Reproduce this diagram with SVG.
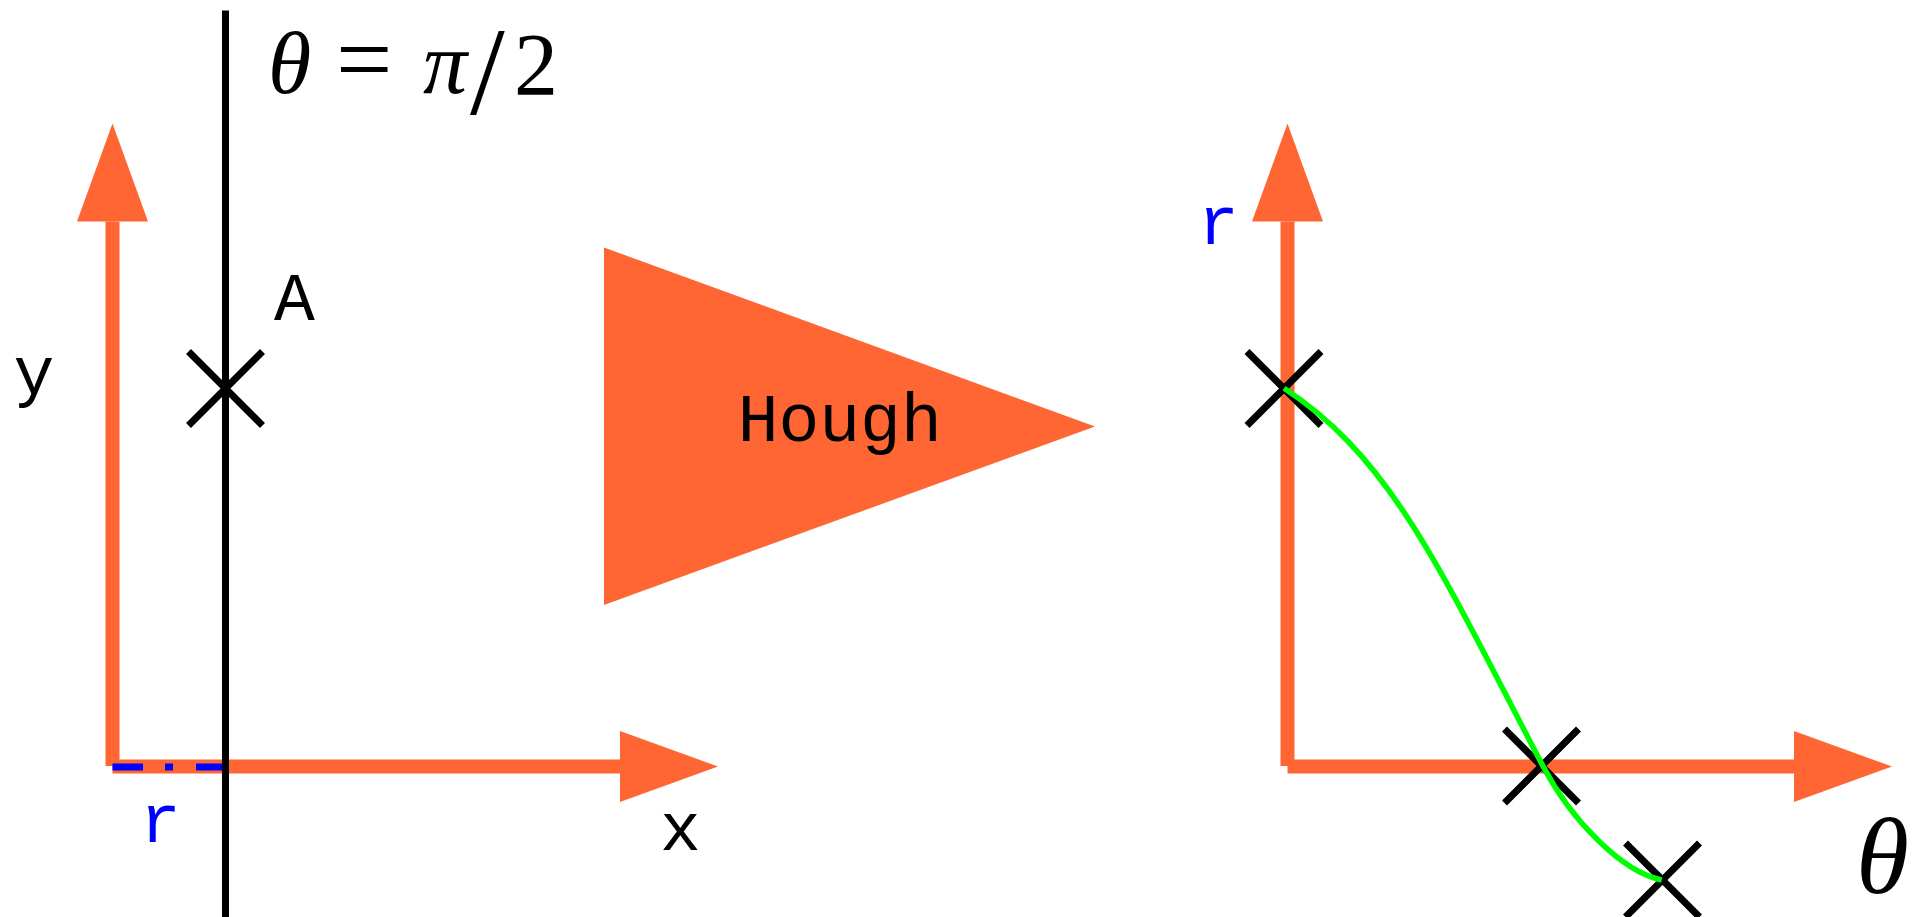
<svg xmlns="http://www.w3.org/2000/svg" width="1917" height="917" viewBox="0 0 1917 917">
  <style>
    .axis { stroke: #ff6633; stroke-width: 14; fill: none; marker-end: url(#ah); }
    .cross { stroke: #000; stroke-width: 7; fill: none; }
    .mono { font-family: "Liberation Mono", "DejaVu Sans Mono", monospace; font-size: 68px; text-anchor: middle; }
    .math { font-family: "Liberation Serif", "DejaVu Serif", serif; fill: #000; }
    .blue { fill: #0000ff; }
  </style>
  <defs>
    <marker id="ah" viewBox="0 0 98 71" refX="0" refY="35.5" markerWidth="98" markerHeight="71" markerUnits="userSpaceOnUse" orient="auto">
      <path d="M0,0 L98,35.5 L0,71 Z" fill="#ff6633"/>
    </marker>
    <path id="xmark" d="M-37,-37 L37,37 M-37,37 L37,-37"/>
  </defs>
  <rect width="1917" height="917" fill="#fff"/>

  <g id="connectors">
    <!-- left axes -->
    <path class="axis" d="M112.5,766 L112.5,221.5"/>
    <path class="axis" d="M112.5,766.5 L620,766.5"/>
    <!-- right axes -->
    <path class="axis" d="M1287.5,766 L1287.5,221.5"/>
    <path class="axis" d="M1287.5,766.5 L1794,766.5"/>
    <!-- r distance, dash-dot -->
    <path d="M112.5,767 L225,767" stroke="#0000ff" stroke-width="7" stroke-dasharray="30.5 22 8 23" fill="none"/>
    <!-- line theta = pi/2 -->
    <path d="M225.5,10.5 L225.5,917" stroke="#000" stroke-width="7" fill="none"/>
  </g>

  <g id="label-theta-eq">
    <text class="math" y="93" style="font-size:88px"><tspan x="268" font-style="italic">θ</tspan><tspan x="336" style="font-size:100px">=</tspan><tspan x="423" font-style="italic">π</tspan><tspan x="470" y="114" style="font-size:125px">/</tspan><tspan x="514" y="94">2</tspan></text>
  </g>

  <g id="node-A">
    <use href="#xmark" class="cross" transform="translate(225.5,388.5)"/>
    <text class="mono" x="294.5" y="320">A</text>
  </g>

  <g id="label-y"><text class="mono" x="34" y="394">y</text></g>
  <g id="label-x"><text class="mono" x="680.5" y="850">x</text></g>
  <g id="label-r-left"><text class="mono blue" x="160.5" y="841.5">r</text></g>

  <g id="node-hough">
    <polygon points="604,247.5 604,605 1095,426.5" fill="#ff6633"/>
    <text class="mono" x="839.7" y="440.7">Hough</text>
  </g>

  <g id="label-r-right"><text class="mono blue" x="1218.5" y="244">r</text></g>
  <g id="label-theta"><text class="math" x="1856" y="893" style="font-size:108px" font-style="italic">θ</text></g>

  <g id="node-points">
    <use href="#xmark" class="cross" transform="translate(1284,388.5)"/>
    <use href="#xmark" class="cross" transform="translate(1541.5,766)"/>
    <use href="#xmark" class="cross" transform="translate(1662.5,880)"/>
  </g>

  <g id="curve">
    <path d="M1284,388.3 C1394,459.8 1443.3,576.7 1543.3,766.7 C1571.3,819.9 1621.7,872 1661.7,880" stroke="#00ff00" stroke-width="5.5" fill="none"/>
  </g>
</svg>
